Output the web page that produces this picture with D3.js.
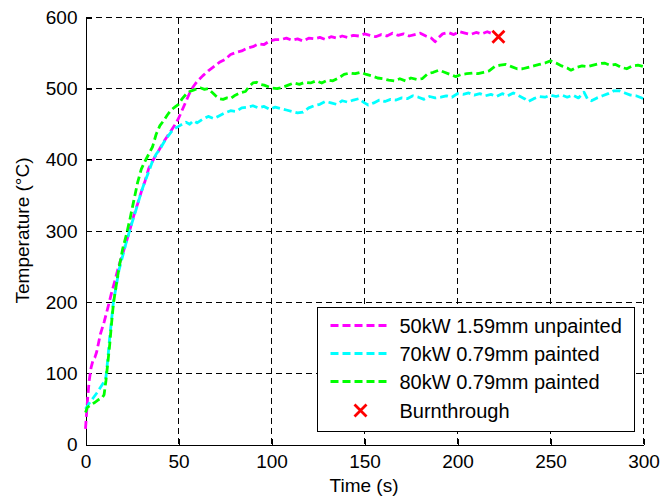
<!DOCTYPE html>
<html>
<head>
<meta charset="utf-8">
<script src="https://cdn.jsdelivr.net/npm/d3@7"></script>
<style>
  html, body { margin: 0; padding: 0; background: #fff; }
  svg { display: block; font-family: "Liberation Sans", Arial, sans-serif; }
</style>
</head>
<body>
<svg id="chart" width="660" height="500"></svg>
<script>
// Temperature histories (time in s, temperature in °C)
const seriesNames = ["50kW 1.59mm unpainted", "70kW 0.79mm painted", "80kW 0.79mm painted"];
const seriesColors = ["#ff00ff", "#00ffff", "#00ff00"];

const time50 = [0,1,2,3,4,5,6,8,10,12,14,16,18,20,22,24,26,28,30,32,34,36,38,40,42,44,46,48,50,52,54,56,58,60,63,66,69,72,75,78,81,84,87,90,93,96,99,102,105,108,111,114,117,120,123,126,129,132,135,138,141,144,147,150,153,156,159,162,165,168,171,174,177,180,183,186,188,190,192,195,198,201,204,207,210,213,216,219];
const temp50 = [22,60,90,108,118,122,130,155,172,192,213,232,252,268,285,303,322,338,355,370,388,398,407,416,425,433,441,449,458,470,482,494,503,510,518,525,531,537,541,548,551,553,557,559,563,562,567,569,569,571,568,570,567,571,570,572,569,573,571,574,572,575,574,577,575,573,576,574,578,575,577,574,576,578,574,571,566,572,577,579,576,580,578,576,579,577,580,577];

const time70 = [0,2,4,6,8,10,11,12,13,14,15,16,18,20,22,24,26,28,30,32,34,36,38,40,42,44,46,48,50,52,54,56,58,60,63,66,69,72,75,78,81,84,87,90,93,96,99,102,105,108,111,114,117,120,123,126,129,132,135,138,141,144,147,150,152,155,158,161,164,167,170,173,176,179,182,185,188,191,194,197,200,203,206,209,212,215,218,221,224,227,230,233,236,238,241,244,247,250,253,256,259,262,265,268,270,272,275,278,281,284,287,290,293,296,300];
const temp70 = [50,58,65,72,80,88,95,120,150,175,200,215,245,265,285,303,320,337,355,370,383,398,408,415,424,432,439,444,447,450,453,450,455,452,457,461,458,462,466,469,468,473,474,476,473,475,471,474,472,470,468,466,467,473,476,478,482,480,478,483,481,484,486,480,477,480,484,482,485,484,487,486,490,488,485,489,487,488,490,488,493,492,494,491,493,490,492,489,493,490,494,490,486,482,486,489,488,491,489,491,488,491,487,495,485,483,487,490,493,497,497,494,491,490,486];

const time80 = [0,1,3,5,7,9,10,11,12,13,14,15,16,18,20,22,24,26,28,30,32,34,36,38,40,42,44,46,48,50,52,54,56,58,60,62,64,66,68,70,72,74,76,78,80,83,86,88,90,92,94,96,98,100,103,106,109,112,115,118,121,124,127,130,133,136,139,142,145,148,151,154,157,160,163,166,169,172,175,178,181,184,187,190,193,196,199,202,205,208,211,214,217,220,223,226,229,232,235,238,241,244,247,250,253,256,259,261,264,267,270,273,276,279,282,285,288,291,294,297,300];
const temp80 = [45,52,56,59,63,66,70,90,115,140,170,198,215,248,275,295,318,343,368,387,398,408,418,436,448,455,463,470,474,478,486,492,496,498,500,501,499,500,495,490,486,485,487,486,490,494,496,503,508,509,506,505,503,501,500,502,505,508,506,509,508,511,508,512,511,515,520,522,521,523,520,518,515,514,512,511,514,511,515,513,514,521,523,526,523,520,517,520,521,522,521,523,525,531,533,534,531,528,528,530,532,534,536,539,536,532,529,526,530,532,531,533,535,536,533,534,530,528,532,533,531];

// Burnthrough event of the unpainted panel
const burnTime = [222];
const burnTemp = [573];

const xTicks = [0, 50, 100, 150, 200, 250, 300];
const yTicks = [0, 100, 200, 300, 400, 500, 600];

const svg = d3.select("#chart");
const margin = { left: 85, top: 17, right: 17, bottom: 56 };
const W = 660 - margin.left - margin.right;
const H = 500 - margin.top - margin.bottom;

const x = d3.scaleLinear().domain([0, 300]).range([0, W]);
const y = d3.scaleLinear().domain([0, 600]).range([H, 0]);

const g = svg.append("g").attr("transform", `translate(${margin.left + 0.5},${margin.top + 0.5})`);

// dashed grid
g.append("g").selectAll("line").data(xTicks.filter(d => d > 0)).join("line")
  .attr("x1", d => Math.round(x(d))).attr("x2", d => Math.round(x(d))).attr("y1", 0).attr("y2", H)
  .attr("stroke", "#000").attr("stroke-width", 1).attr("stroke-dasharray", "6,4")
  .attr("shape-rendering", "crispEdges");
g.append("g").selectAll("line").data(yTicks.filter(d => d > 0)).join("line")
  .attr("y1", d => Math.round(y(d))).attr("y2", d => Math.round(y(d))).attr("x1", 0).attr("x2", W)
  .attr("stroke", "#000").attr("stroke-width", 1).attr("stroke-dasharray", "6,4")
  .attr("shape-rendering", "crispEdges");

// axes (ticks pointing inward)
const xAxis = d3.axisBottom(x).tickValues(xTicks).tickSizeInner(-6).tickSizeOuter(0).tickPadding(10);
const yAxis = d3.axisLeft(y).tickValues(yTicks).tickSizeInner(-6).tickSizeOuter(0).tickPadding(8);

const gx = g.append("g").attr("transform", `translate(0,${H})`).call(xAxis);
const gy = g.append("g").call(yAxis);
[gx, gy].forEach(a => {
  a.select(".domain").attr("stroke", "#000").attr("stroke-width", 1).attr("shape-rendering", "crispEdges");
  a.selectAll(".tick line").attr("stroke", "#000").attr("stroke-width", 1).attr("shape-rendering", "crispEdges");
  a.selectAll(".tick text").attr("font-size", 19).attr("fill", "#000")
    .attr("font-family", "'Liberation Sans', Arial, sans-serif");
});

// axis titles
svg.append("text").attr("x", margin.left + W / 2).attr("y", 492)
  .attr("text-anchor", "middle").attr("font-size", 19).text("Time (s)");
svg.append("text").attr("transform", `translate(29,${margin.top + H / 2}) rotate(-90)`)
  .attr("text-anchor", "middle").attr("font-size", 19).text("Temperature (°C)");

// curves
const line = d3.line().x(d => x(d[0])).y(d => y(d[1]));
const data = [
  d3.zip(time50, temp50),
  d3.zip(time70, temp70),
  d3.zip(time80, temp80)
];
data.forEach((pts, i) => {
  g.append("path").datum(pts).attr("d", line)
    .attr("fill", "none").attr("stroke", seriesColors[i])
    .attr("stroke-width", 2.8).attr("stroke-dasharray", "8,4")
    .attr("stroke-linejoin", "round");
});

// burnthrough marker
const xMark = (sel, cx, cy, r) => {
  sel.append("path")
    .attr("d", `M${cx - r},${cy - r}L${cx + r},${cy + r}M${cx - r},${cy + r}L${cx + r},${cy - r}`)
    .attr("stroke", "#ff0000").attr("stroke-width", 2.8).attr("fill", "none");
};
burnTime.forEach((t, i) => xMark(g, x(t), y(burnTemp[i]), 6));

// legend
const lg = svg.append("g").attr("transform", "translate(317.5,307.5)");
lg.append("rect").attr("x", 0).attr("y", 0).attr("width", 317).attr("height", 124)
  .attr("fill", "#fff").attr("stroke", "#000").attr("stroke-width", 1)
  .attr("shape-rendering", "crispEdges");
const rowY = [18, 46, 74, 103];
seriesNames.forEach((name, i) => {
  lg.append("line").attr("x1", 13).attr("x2", 72).attr("y1", rowY[i]).attr("y2", rowY[i])
    .attr("stroke", seriesColors[i]).attr("stroke-width", 2.8).attr("stroke-dasharray", "8,4");
  lg.append("text").attr("x", 82).attr("y", rowY[i]).attr("dy", "0.35em")
    .attr("font-size", 20).text(name);
});
xMark(lg, 43, rowY[3], 6);
lg.append("text").attr("x", 82).attr("y", rowY[3]).attr("dy", "0.35em")
  .attr("font-size", 20).text("Burnthrough");
</script>
</body>
</html>
